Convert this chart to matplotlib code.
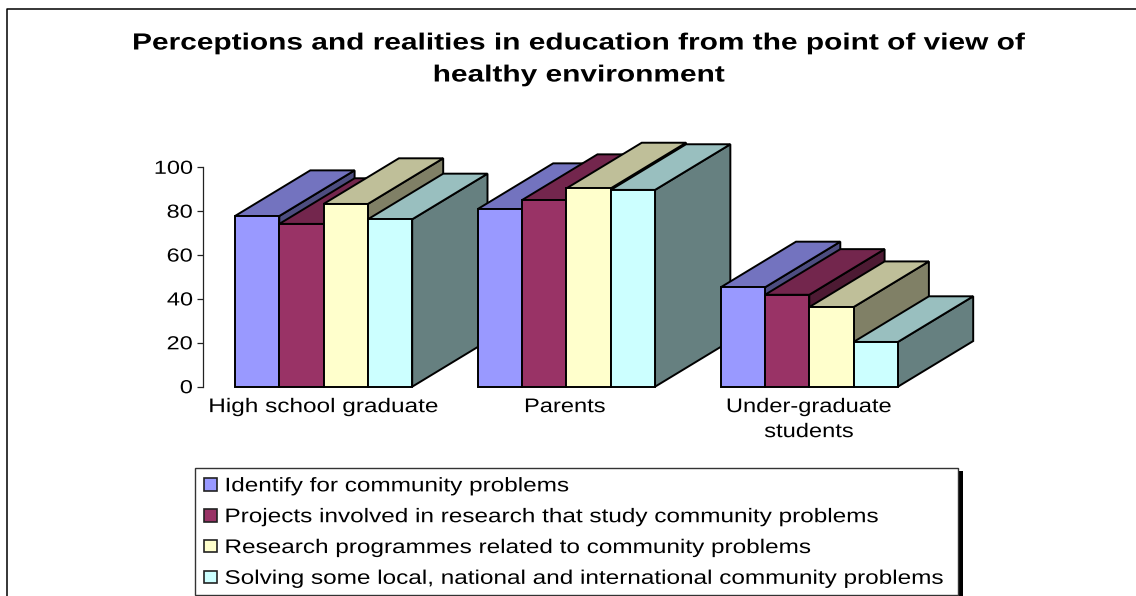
import matplotlib
matplotlib.use("Agg")
import matplotlib.pyplot as plt
from matplotlib.patches import Patch, Rectangle
from matplotlib.lines import Line2D
from matplotlib.patheffects import AbstractPathEffect
from matplotlib.transforms import Affine2D

plt.rcParams['font.family'] = ['Liberation Sans', 'DejaVu Sans']

title_lines = ["Perceptions and realities in education from the point of view of",
               "healthy environment"]
categories = ["High school graduate", "Parents", "Under-graduate\nstudents"]
series_names = ["Identify for community problems",
                "Projects involved in research that study community problems",
                "Research programmes related to community problems",
                "Solving some local, national and international community problems"]
identify = [77.8, 81.0, 45.3]
projects = [74.2, 85.1, 41.9]
programmes = [83.3, 90.4, 36.3]
solving = [76.3, 89.7, 20.4]
y_ticks = [0, 20, 40, 60, 80, 100]

front_colors = ['#9999FF', '#993366', '#FFFFCC', '#CCFFFF']
top_colors = ['#7373BF', '#73264D', '#BFBF99', '#99BFBF']
side_colors = ['#4D4D80', '#4D1A33', '#808066', '#668080']


class HStretch(AbstractPathEffect):
    """Widen a text horizontally about a pixel anchor (the source picture is stretched)."""
    def __init__(self, sx, anchor, dx=0.0):
        super().__init__()
        self.sx, self.anchor, self.dx = sx, anchor, dx

    def draw_path(self, renderer, gc, tpath, affine, rgbFace=None):
        t = affine + Affine2D().translate(-self.anchor, 0).scale(self.sx, 1).translate(self.anchor + self.dx, 0)
        renderer.draw_path(gc, tpath, t, rgbFace)


W, H = 1136, 596
fig = plt.figure(figsize=(W / 100, H / 100), dpi=100, facecolor='white')

ax_l, ax_r, ax_top, ax_bot = 203.3, 1000.0, 167.3, 386.7
ax = fig.add_axes([ax_l / W, 1 - ax_bot / H, (ax_r - ax_l) / W, (ax_bot - ax_top) / H])
px_per_cat = 242.85
centre0 = 323.6
ax.set_xlim((ax_l - centre0) / px_per_cat, (ax_r - centre0) / px_per_cat)
ax.set_ylim(0, 100)
ax.patch.set_visible(False)
for s in ['top', 'right', 'bottom']:
    ax.spines[s].set_visible(False)
ax.spines['left'].set_linewidth(0.9)
ax.spines['left'].set_color('#222222')

bar_w = 44.3 / px_per_cat
depth_x = 75.3 / px_per_cat
depth_y = 20.8

all_series = [identify, projects, programmes, solving]
z = 3
edge = dict(edgecolor='black', linewidth=1.4, joinstyle='miter', clip_on=False)
for g in range(len(categories)):
    for i, vals in enumerate(all_series):
        v = vals[g]
        x0 = g + (i - 2) * bar_w
        x1 = x0 + bar_w
        ax.fill([x1, x1 + depth_x, x1 + depth_x, x1], [0, depth_y, v + depth_y, v],
                facecolor=side_colors[i], zorder=z, **edge)
        ax.fill([x0, x0 + depth_x, x1 + depth_x, x1], [v, v + depth_y, v + depth_y, v],
                facecolor=top_colors[i], zorder=z, **edge)
        ax.bar(x0, v, width=bar_w, align='edge', color=front_colors[i], zorder=z + 0.5, **edge)
        z += 1

ax.set_yticks(y_ticks)
ax.tick_params(axis='y', length=4.5, width=0.9, pad=3, labelsize=13.6, color='#222222')
ax.set_xticks(range(len(categories)))
ax.set_xticklabels(categories, fontsize=14.2, linespacing=1.4)
ax.tick_params(axis='x', length=0, pad=7.5)

title_artists = [
    fig.text(579 / W, 1 - 43 / H, title_lines[0], ha='center', va='center',
             fontsize=16.8, fontweight='bold', color='black'),
    fig.text(579 / W, 1 - 75 / H, title_lines[1], ha='center', va='center',
             fontsize=16.8, fontweight='bold', color='black'),
]

# chart frame: left and top only, the rest falls outside the crop
fig.add_artist(Line2D([6.5 / W, 6.5 / W, 1], [0, 1 - 8.5 / H, 1 - 8.5 / H], color='black', lw=1.1))

# legend box with a hard shadow
fig.add_artist(Rectangle((958 / W, 0), 4.5 / W, 1 - 471 / H, transform=fig.transFigure,
                         facecolor='black', edgecolor='none'))
fig.add_artist(Rectangle((194.5 / W, 1 / H), 763 / W, (595 - 468.3) / H, transform=fig.transFigure,
                         facecolor='white', edgecolor='#333333', linewidth=1.0))
handles = [Patch(facecolor=c, edgecolor='#222222', linewidth=1.2) for c in front_colors]
leg = fig.legend(handles, series_names, loc='upper left',
                 bbox_to_anchor=(194.5 / W, 1 - 466.5 / H), bbox_transform=fig.transFigure,
                 borderaxespad=0, fontsize=14.2, frameon=False,
                 handlelength=0.62, handleheight=0.62,
                 handletextpad=0.45, labelspacing=0.6, borderpad=0.5)
leg.set_zorder(10)

# widen all texts about their anchors
fig.canvas.draw()
for t in title_artists:
    b = t.get_window_extent()
    t.set_path_effects([HStretch(1.28, (b.x0 + b.x1) / 2)])
for t in ax.get_yticklabels():
    b = t.get_window_extent()
    t.set_path_effects([HStretch(1.245, b.x1)])
for t, dx, sx in zip(ax.get_xticklabels(), [0.5, -1.5, 0.0], [1.235, 1.2, 1.2]):
    b = t.get_window_extent()
    t.set_path_effects([HStretch(sx, (b.x0 + b.x1) / 2, dx)])
for t in leg.get_texts():
    b = t.get_window_extent()
    t.set_path_effects([HStretch(1.233, b.x0, -1.0)])

fig.savefig('out.png', dpi=100, facecolor='white')
